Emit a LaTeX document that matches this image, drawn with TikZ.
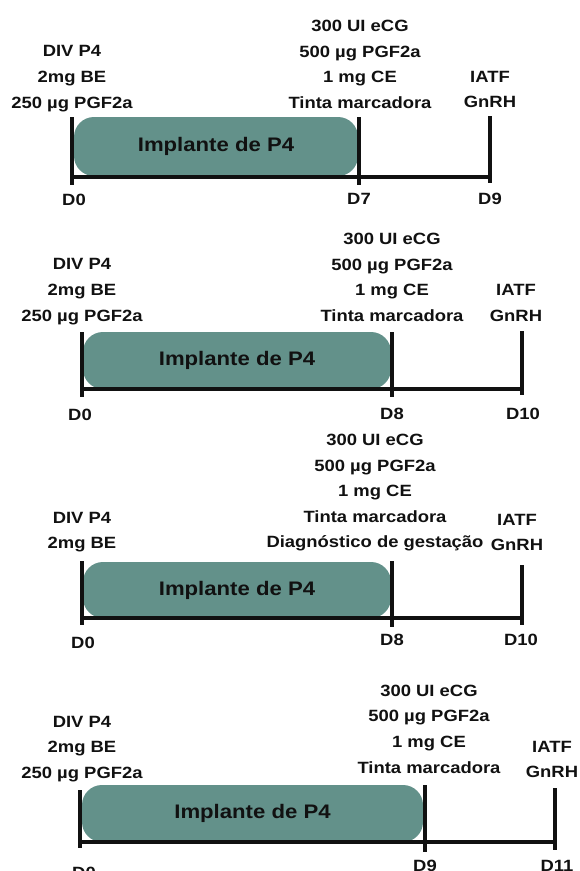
\documentclass[tikz,border=0pt]{standalone}
\usepackage{fontspec}
\setmainfont{Liberation Sans}[FakeStretch=1.13]
\usepackage{tikz}
\usepackage{xcolor}
\definecolor{implantgreen}{HTML}{63918A}
\definecolor{ink}{HTML}{111111}
\tikzset{
  dosetext/.style={align=center,inner sep=0pt,text=ink,
                   font=\bfseries\fontsize{16.3}{25.6}\selectfont},
  daytext/.style={inner sep=0pt,text=ink,
                  font=\bfseries\fontsize{16.3}{20}\selectfont},
  implantbar/.style={fill=implantgreen,rounded corners=20pt,inner sep=0pt,
                     text=ink,font=\bfseries\fontsize{19.6}{22}\selectfont},
  daytick/.style={draw=ink,line width=4pt},
  timeline/.style={draw=ink,line width=4pt}
}

\begin{document}
\begin{tikzpicture}[x=1pt,y=-1pt]
  \fill[white] (0,0) rectangle (579,871);
  \useasboundingbox (0,0) rectangle (579,871);

  % protocolo 1: D0 - D7 - D9
  \node[dosetext] (p1dose0) at (72,78.7) {DIV P4\\2mg BE\\250 µg PGF2a};
  \node[dosetext] (p1dose7) at (360,64.5) {300 UI eCG\\500 µg PGF2a\\1 mg CE\\Tinta marcadora};
  \node[dosetext] (p1dose9) at (490,89.5) {IATF\\GnRH};
  \node[implantbar,minimum width=284,minimum height=59] (p1imp) at (216,146.5) {Implante de P4};
  \coordinate (p1a) at (72,176.5);
  \coordinate (p1c) at (490,176.5);
  \draw[timeline] (p1a) -- (p1c);
  \draw[daytick] (72,117) -- (72,185);
  \draw[daytick] (359,117) -- (359,185);
  \draw[daytick] (490,116) -- (490,183);
  \node[daytext] (p1d0) at (74,200) {D0};
  \node[daytext] (p1d7) at (359,199) {D7};
  \node[daytext] (p1d9) at (490,199) {D9};

  % protocolo 2: D0 - D8 - D10
  \node[dosetext] (p2dose0) at (82,291.7) {DIV P4\\2mg BE\\250 µg PGF2a};
  \node[dosetext] (p2dose8) at (392,277.5) {300 UI eCG\\500 µg PGF2a\\1 mg CE\\Tinta marcadora};
  \node[dosetext] (p2dose10) at (516,303) {IATF\\GnRH};
  \node[implantbar,minimum width=308,minimum height=57] (p2imp) at (237,360.5) {Implante de P4};
  \coordinate (p2a) at (82,389);
  \coordinate (p2c) at (522,389);
  \draw[timeline] (p2a) -- (p2c);
  \draw[daytick] (82,332) -- (82,397);
  \draw[daytick] (392,332) -- (392,397);
  \draw[daytick] (522,331) -- (522,395);
  \node[daytext] (p2d0) at (80,415) {D0};
  \node[daytext] (p2d8) at (392,414) {D8};
  \node[daytext] (p2d10) at (523,414) {D10};

  % protocolo 3: D0 - D8 - D10, com diagnostico
  \node[dosetext] (p3dose0) at (82,532.2) {DIV P4\\2mg BE};
  \node[dosetext] (p3dose8) at (375,492.7) {300 UI eCG\\500 µg PGF2a\\1 mg CE\\Tinta marcadora\\Diagnóstico de gestação};
  \node[dosetext] (p3dose10) at (517,532.5) {IATF\\GnRH};
  \node[implantbar,minimum width=308,minimum height=56] (p3imp) at (237,590) {Implante de P4};
  \coordinate (p3a) at (82,618);
  \coordinate (p3c) at (522,618);
  \draw[timeline] (p3a) -- (p3c);
  \draw[daytick] (82,561) -- (82,625);
  \draw[daytick] (392,561) -- (392,627);
  \draw[daytick] (522,565) -- (522,625);
  \node[daytext] (p3d0) at (83,643) {D0};
  \node[daytext] (p3d8) at (392,640) {D8};
  \node[daytext] (p3d10) at (521,640) {D10};

  % protocolo 4: D0 - D9 - D11
  \node[dosetext] (p4dose0) at (82,749) {DIV P4\\2mg BE\\250 µg PGF2a};
  \node[dosetext] (p4dose9) at (429,729) {300 UI eCG\\500 µg PGF2a\\1 mg CE\\Tinta marcadora};
  \node[dosetext] (p4dose11) at (552,759.5) {IATF\\GnRH};
  \node[implantbar,minimum width=341,minimum height=57] (p4imp) at (252.5,813.5) {Implante de P4};
  \coordinate (p4a) at (80,842);
  \coordinate (p4c) at (555,842);
  \draw[timeline] (p4a) -- (p4c);
  \draw[daytick] (80,790) -- (80,848);
  \draw[daytick] (425,785) -- (425,852);
  \draw[daytick] (555,788) -- (555,850);
  \node[daytext] (p4d0) at (84,872.5) {D0};
  \node[daytext] (p4d9) at (425,866) {D9};
  \node[daytext] (p4d11) at (557,866) {D11};
\end{tikzpicture}
\end{document}
